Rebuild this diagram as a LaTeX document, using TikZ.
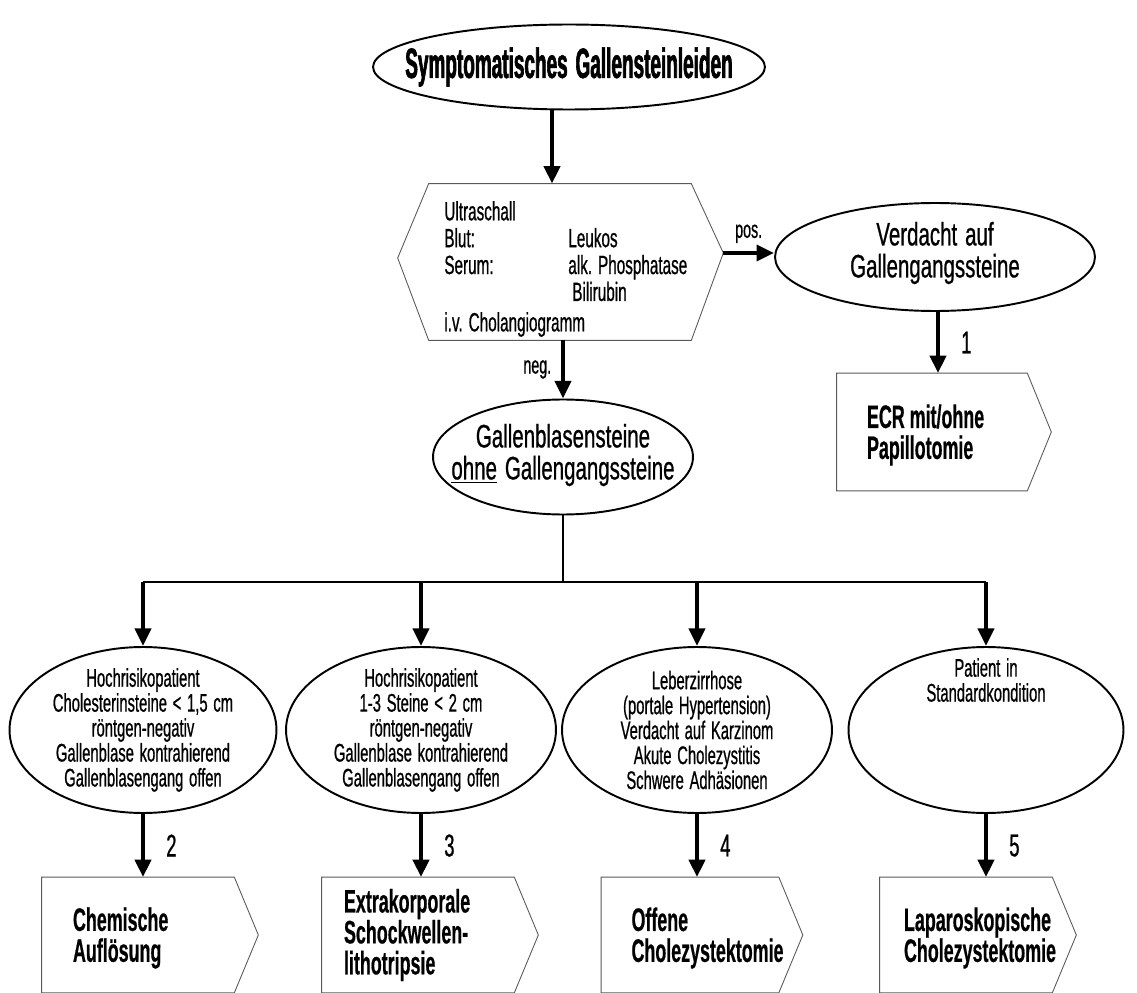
\documentclass[tikz,border=0pt]{standalone}
\usepackage{fontspec}
\setmainfont{Liberation Sans}[FakeStretch=0.58, FakeBold=0.7, WordSpace=1.4]
\newfontfamily\mittelfont{Liberation Sans}[FakeStretch=0.63, FakeBold=0.7, WordSpace=1.4]
\newfontfamily\schmalfont{Liberation Sans}[FakeStretch=0.55, FakeBold=0.5]
\newfontfamily\titelfont{Liberation Sans}[FakeStretch=0.45, FakeBold=1.5, WordSpace=1.5]
\usetikzlibrary{shapes.geometric,arrows.meta,calc}

\tikzset{
  oval/.style={ellipse, draw, line width=1.1pt, inner sep=0pt},
  feld/.style={rectangle, inner sep=0pt},
  umriss/.style={draw=black!65, line width=0.5pt},
  pfeil/.style={line width=2.8pt, -{Triangle[length=10pt,width=9pt]}},
  linie/.style={line width=1.3pt},
  titel/.style={font=\titelfont\bfseries\fontsize{24}{24}\selectfont},
  mittel/.style={align=center, font=\mittelfont\fontsize{18.5}{18.2}\selectfont},
  klein/.style={align=center, font=\fontsize{14.5}{14.2}\selectfont},
  liste/.style={align=left, anchor=west, inner sep=0pt, font=\fontsize{15}{15.3}\selectfont},
  boxtext/.style={align=left, anchor=west, inner sep=0pt, font=\schmalfont\bfseries\fontsize{18.5}{17.6}\selectfont},
  nummer/.style={anchor=west, font=\fontsize{18}{18}\selectfont},
  marke/.style={font=\fontsize{14}{14}\selectfont}
}

\begin{document}
\begin{tikzpicture}[x=0.02cm, y=-0.02cm]
\clip (0,0) rectangle (1137,993);

% Kopf
\node[oval, minimum width=7.84cm, minimum height=1.7cm] (kopf) at (569,67) {};
\node[titel] (kopftext) at (kopf) {Symptomatisches Gallensteinleiden};

% Diagnostik (Sechseck)
\node[feld, minimum width=5.24cm, minimum height=3.12cm] (diag) at (560,262) {};
\coordinate (diaglinks) at ($(diag.west)+(-31,-4)$);
\coordinate (diagrechts) at ($(diag.east)+(32,-9)$);
\draw[umriss] (diag.north west) -- (diag.north east) -- (diagrechts)
  -- (diag.south east) -- (diag.south west) -- (diaglinks) -- cycle;
\node[liste] (diagtext) at (444,269) {Ultraschall\\
  \makebox[2.48cm][l]{Blut:}Leukos\\
  \makebox[2.48cm][l]{Serum:}alk.\ Phosphatase\\
  \makebox[2.56cm][l]{}Bilirubin\\[2pt]
  i.v.\ Cholangiogramm};

% Verdacht
\node[oval, minimum width=6.4cm, minimum height=2.16cm] (verdacht) at (935,257) {};
\node[mittel] (verdachttext) at ($(verdacht)+(0,-4)$) {Verdacht auf\\Gallengangssteine};

% ECR
\node[feld, minimum width=3.8cm, minimum height=2.34cm] (ecr) at (932,432) {};

% Gallenblasensteine
\node[oval, minimum width=5.2cm, minimum height=2.3cm] (blase) at (563,457) {};
\node[mittel] (blasetext) at ($(blase)+(0,-2)$) {Gallenblasensteine\\\underline{ohne} Gallengangssteine};
\coordinate (verteiler) at (563,582);

% Patientengruppen
\node[oval, minimum width=5.34cm, minimum height=3.32cm] (chol) at (143,730) {};
\node[klein] (choltext) at (chol) {Hochrisikopatient\\Cholesterinsteine < 1,5 cm\\röntgen-negativ\\Gallenblase kontrahierend\\Gallenblasengang offen};
\node[oval, minimum width=5.4cm, minimum height=3.32cm] (steine) at (421,730) {};
\node[klein] (steinetext) at (steine) {Hochrisikopatient\\1-3 Steine < 2 cm\\röntgen-negativ\\Gallenblase kontrahierend\\Gallenblasengang offen};
\node[oval, minimum width=5.4cm, minimum height=3.32cm] (zirrhose) at (697,730) {};
\node[klein] (zirrhosetext) at (zirrhose) {Leberzirrhose\\(portale Hypertension)\\Verdacht auf Karzinom\\Akute Cholezystitis\\Schwere Adhäsionen};
\node[oval, minimum width=5.5cm, minimum height=3.32cm] (standard) at (986,730) {};
\node[klein] (standardtext) at ($(standard)+(0,-50)$) {Patient in\\Standardkondition};

% Therapien
\node[feld, minimum width=3.84cm, minimum height=2.3cm] (chemie) at (138,935) {};
\node[feld, minimum width=3.84cm, minimum height=2.3cm] (eswl) at (418,935) {};
\node[feld, minimum width=3.54cm, minimum height=2.3cm] (offen) at (690,935) {};
\node[feld, minimum width=3.44cm, minimum height=2.3cm] (lap) at (966,935) {};
\foreach \b in {ecr,chemie,eswl,offen,lap}
  \draw[umriss] (\b.north west) -- (\b.north east) -- ($(\b.east)+(24,0)$)
    -- (\b.south east) -- (\b.south west) -- cycle;

\node[boxtext] (ecrtext) at ($(ecr.west)+(30,3)$) {ECR mit/ohne\\Papillotomie};
\node[boxtext] (chemietext) at ($(chemie.west)+(31,3)$) {Chemische\\Auflösung};
\node[boxtext] (eswltext) at ($(eswl.west)+(22,0)$) {Extrakorporale\\Schockwellen-\\lithotripsie};
\node[boxtext] (offentext) at ($(offen.west)+(30,3)$) {Offene\\Cholezystektomie};
\node[boxtext] (laptext) at ($(lap.west)+(24,3)$) {Laparoskopische\\Cholezystektomie};

% Pfeile
\draw[pfeil] (kopf.south -| 552,0) -- (diag.north -| 552,0);
\draw[pfeil] (diagrechts) -- (diagrechts -| verdacht.west) node[marke, midway, above, yshift=1pt] (posmarke) {pos.};
\draw[pfeil] (diag.south -| blase.north) -- (blase.north) node[marke, midway, left, xshift=-2pt] (negmarke) {neg.};
\draw[pfeil] (verdacht.south -| 938,0) -- (ecr.north -| 938,0) node[nummer, midway, xshift=0.3cm] (n1) {1};
\draw[linie] (blase.south) -- (verteiler);
\draw[linie] (chol.north |- verteiler) -- (standard.north |- verteiler);
\foreach \e in {chol,steine,zirrhose,standard}
  \draw[pfeil] (\e.north |- verteiler) -- (\e.north);
\draw[pfeil] (chol.south) -- (chemie.north -| chol.south) node[nummer, midway, xshift=0.3cm] (n2) {2};
\draw[pfeil] (steine.south) -- (eswl.north -| steine.south) node[nummer, midway, xshift=0.3cm] (n3) {3};
\draw[pfeil] (zirrhose.south) -- (offen.north -| zirrhose.south) node[nummer, midway, xshift=0.3cm] (n4) {4};
\draw[pfeil] (standard.south) -- (lap.north -| standard.south) node[nummer, midway, xshift=0.3cm] (n5) {5};
\end{tikzpicture}
\end{document}
